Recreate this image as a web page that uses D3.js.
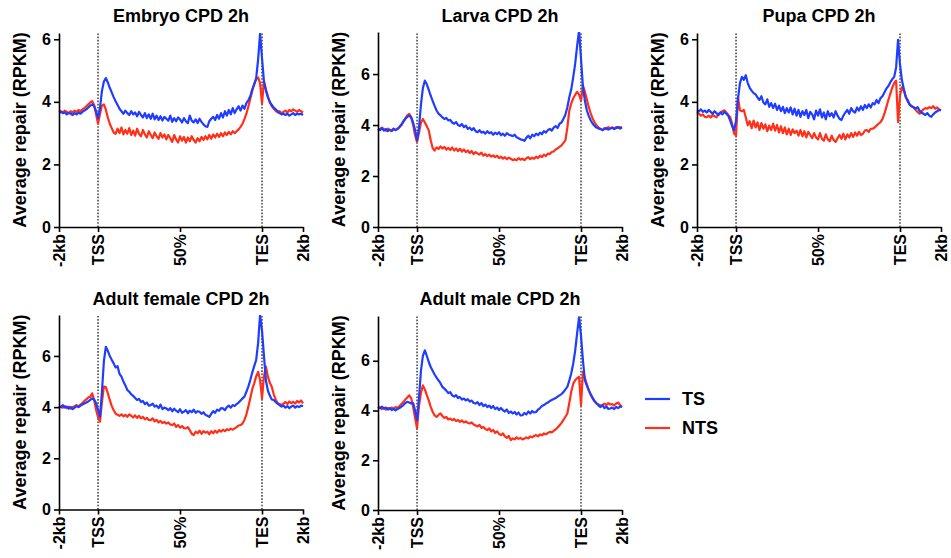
<!DOCTYPE html>
<html><head><meta charset="utf-8">
<script src="https://cdn.jsdelivr.net/npm/d3@7"></script>
<style>
body{margin:0;background:#fff}
svg text{font-family:"Liberation Sans",Arial,Helvetica,sans-serif;font-weight:bold;fill:#000}
</style></head>
<body><svg id="chart" width="951" height="558"></svg>
<script>
// ---------- data ----------
const xTickLabels = ["-2kb", "TSS", "50%", "TES", "2kb"];
const xTickBins = [0, 20, 62, 104, 125];
const markerBins = [20, 104];
const yTicks = [0, 2, 4, 6];
const titles = ["Embryo CPD 2h", "Larva CPD 2h", "Pupa CPD 2h", "Adult female CPD 2h", "Adult male CPD 2h"];
const yMaxes = [6.2, 7.65, 6.2, 7.6, 7.8];
const seriesNames = ["TS", "NTS"];
const seriesColors = ["#1f3dff", "#ff2f1a"];

const embryoTS = [3.66,3.68,3.64,3.66,3.60,3.65,3.62,3.58,3.64,3.60,
 3.66,3.62,3.68,3.72,3.76,3.82,3.88,3.92,3.86,3.70,
 3.48,3.80,4.35,4.65,4.76,4.62,4.45,4.30,4.15,4.02,
 3.90,3.78,3.70,3.62,3.72,3.64,3.58,3.70,3.60,3.66,
 3.54,3.68,3.58,3.50,3.64,3.48,3.60,3.46,3.62,3.44,
 3.56,3.42,3.54,3.40,3.52,3.46,3.40,3.56,3.36,3.48,
 3.38,3.50,3.44,3.34,3.48,3.38,3.32,3.56,3.40,3.34,
 3.44,3.32,3.46,3.36,3.28,3.22,3.20,3.38,3.46,3.52,
 3.42,3.58,3.46,3.64,3.50,3.70,3.56,3.74,3.60,3.80,
 3.64,3.76,3.86,3.72,3.88,3.78,3.96,4.05,4.18,4.40,
 4.55,4.75,5.35,6.18,5.40,4.65,4.35,4.15,4.00,3.90,
 3.82,3.76,3.70,3.64,3.60,3.62,3.58,3.62,3.56,3.60,
 3.64,3.58,3.62,3.60,3.62,3.58];
const embryoNTS = [3.68,3.70,3.66,3.72,3.68,3.64,3.70,3.66,3.72,3.68,
 3.74,3.70,3.76,3.80,3.86,3.92,3.98,4.02,3.90,3.60,
 3.30,3.62,3.88,3.92,3.75,3.50,3.30,3.16,3.02,2.98,
 3.14,3.00,3.18,2.96,3.10,2.98,3.16,2.94,3.08,2.92,
 3.14,2.98,2.90,3.10,2.96,2.86,3.06,2.94,2.84,3.02,
 2.90,2.82,3.00,2.86,2.96,2.80,2.94,2.84,2.72,2.94,
 2.80,2.70,2.90,2.76,2.88,2.70,2.86,2.74,2.90,2.78,
 2.70,2.84,2.74,2.88,2.78,2.90,2.80,2.94,2.82,2.96,
 2.86,2.98,2.88,3.00,2.90,3.02,2.94,3.04,2.96,3.06,
 3.00,3.06,3.12,3.20,3.30,3.45,3.62,3.85,4.10,4.35,
 4.58,4.72,4.78,4.60,3.95,4.65,4.40,4.18,3.98,3.86,
 3.78,3.72,3.66,3.70,3.64,3.68,3.72,3.66,3.74,3.70,
 3.76,3.72,3.68,3.74,3.70,3.66];

const larvaTS = [3.85,3.80,3.88,3.78,3.84,3.76,3.82,3.78,3.86,3.80,
 3.84,3.92,4.02,4.15,4.25,4.32,4.37,4.30,4.10,3.80,
 3.40,3.90,4.80,5.45,5.74,5.60,5.38,5.15,4.95,4.75,
 4.57,4.45,4.38,4.30,4.24,4.28,4.18,4.20,4.10,4.05,
 4.12,4.00,3.96,4.04,3.92,3.98,3.85,3.90,3.80,3.88,
 3.76,3.72,3.80,3.70,3.74,3.66,3.76,3.68,3.72,3.62,
 3.70,3.64,3.72,3.60,3.66,3.58,3.68,3.62,3.60,3.56,
 3.62,3.52,3.48,3.44,3.42,3.38,3.50,3.58,3.48,3.62,
 3.56,3.66,3.60,3.70,3.64,3.76,3.70,3.80,3.85,3.78,
 3.90,3.96,3.88,4.05,4.10,4.25,4.40,4.70,5.09,5.40,
 5.87,6.40,7.10,7.70,6.60,5.48,4.95,4.57,4.35,4.18,
 4.05,3.96,3.90,3.86,3.85,3.80,3.84,3.88,3.82,3.86,
 3.90,3.84,3.88,3.92,3.86,3.90];
const larvaNTS = [3.86,3.82,3.90,3.84,3.78,3.86,3.80,3.76,3.84,3.80,
 3.86,3.92,4.00,4.12,4.25,4.38,4.44,4.30,4.00,3.60,
 3.33,3.70,4.10,4.24,4.10,3.95,3.79,3.40,3.10,3.00,
 3.12,3.06,3.16,3.08,3.14,3.04,3.10,3.02,3.12,3.00,
 3.08,2.98,3.07,2.96,3.04,2.94,3.00,2.90,2.98,2.86,
 2.94,2.88,2.84,2.92,2.80,2.86,2.78,2.84,2.76,2.81,
 2.74,2.80,2.70,2.76,2.68,2.74,2.66,2.72,2.68,2.62,
 2.66,2.62,2.70,2.64,2.68,2.62,2.70,2.74,2.66,2.72,
 2.68,2.76,2.70,2.80,2.74,2.84,2.78,2.88,2.86,2.94,
 2.96,3.04,3.08,3.14,3.20,3.30,3.40,3.90,4.57,4.85,
 5.05,5.18,5.30,5.20,4.96,5.55,5.30,5.00,4.70,4.45,
 4.25,4.10,3.98,3.90,3.84,3.80,3.88,3.84,3.92,3.86,
 3.90,3.86,3.92,3.88,3.92,3.88];

const pupaTS = [3.73,3.70,3.76,3.68,3.72,3.66,3.74,3.68,3.62,3.70,
 3.64,3.58,3.66,3.60,3.68,3.62,3.56,3.40,3.22,3.09,
 3.40,4.10,4.60,4.80,4.70,4.85,4.60,4.45,4.36,4.28,
 4.24,4.14,4.06,4.18,3.98,3.92,4.08,3.84,3.96,3.80,
 3.94,3.74,3.88,3.70,3.84,3.64,3.80,3.66,3.82,3.60,
 3.78,3.56,3.74,3.52,3.70,3.58,3.74,3.48,3.68,3.60,
 3.44,3.72,3.56,3.76,3.50,3.66,3.44,3.70,3.54,3.64,
 3.50,3.70,3.56,3.46,3.42,3.56,3.66,3.74,3.62,3.80,
 3.70,3.66,3.82,3.72,3.86,3.74,3.90,3.80,3.92,3.82,
 3.96,3.92,4.06,3.96,4.12,4.18,4.30,4.42,4.50,4.62,
 4.72,4.79,5.10,5.98,5.20,4.68,4.40,4.15,4.05,3.90,
 3.86,3.82,3.78,3.83,3.72,3.66,3.62,3.58,3.64,3.56,
 3.52,3.60,3.66,3.70,3.74,3.73];
const pupaNTS = [3.67,3.62,3.56,3.60,3.52,3.51,3.56,3.50,3.58,3.54,
 3.51,3.60,3.66,3.70,3.73,3.66,3.58,3.51,3.30,2.98,
 2.93,4.15,3.73,3.70,3.74,3.50,3.25,3.38,3.16,3.40,
 3.18,3.34,3.10,3.32,3.14,3.28,3.06,3.24,3.10,3.30,
 3.08,3.26,3.02,3.22,3.00,3.18,2.96,3.14,2.94,3.12,
 3.00,3.08,2.92,3.10,2.90,3.06,2.86,3.04,2.94,2.84,
 3.00,2.86,2.80,3.00,2.82,2.76,2.96,2.80,2.74,2.92,
 2.78,2.72,2.84,2.94,2.82,2.98,2.80,2.96,2.86,3.00,
 2.88,3.02,2.92,3.04,2.94,2.98,3.08,3.10,3.04,3.14,
 3.14,3.18,3.24,3.30,3.35,3.45,3.62,3.83,4.05,4.25,
 4.45,4.60,4.68,3.35,4.20,4.47,4.35,4.15,4.00,3.92,
 3.86,3.83,3.74,3.68,3.62,3.70,3.76,3.80,3.78,3.83,
 3.80,3.86,3.78,3.82,3.76,3.73];

const femaleTS = [4.04,4.00,4.08,3.98,4.02,3.94,4.00,3.92,3.98,4.04,
 4.00,4.06,4.10,4.14,4.18,4.22,4.28,4.34,4.30,4.15,
 3.90,3.62,4.60,5.80,6.36,6.20,6.00,5.85,5.71,5.55,
 5.60,5.30,5.19,5.00,4.85,4.67,4.60,4.50,4.44,4.36,
 4.28,4.32,4.20,4.24,4.12,4.18,4.06,4.08,4.14,4.02,
 4.06,3.96,4.10,3.92,3.98,3.95,3.88,3.96,3.84,3.94,
 3.86,3.80,3.92,3.78,3.82,3.88,3.76,3.86,3.80,3.90,
 3.78,3.84,3.82,3.74,3.80,3.70,3.66,3.62,3.74,3.84,
 3.78,3.90,3.86,3.96,3.95,3.88,4.00,4.06,3.98,4.08,
 4.04,4.12,4.18,4.26,4.34,4.41,4.60,4.80,5.06,5.35,
 5.60,5.84,6.50,7.60,7.00,6.00,5.05,4.65,4.45,4.30,
 4.28,4.20,4.14,4.08,4.02,4.06,3.98,4.04,3.96,4.02,
 4.06,3.98,4.04,4.00,4.06,4.04];
const femaleNTS = [4.04,4.00,3.98,4.04,3.96,4.02,3.94,4.00,4.04,4.08,
 4.02,4.10,4.16,4.24,4.30,4.38,4.40,4.54,4.28,3.90,
 3.60,3.43,4.20,4.80,4.78,4.55,4.28,4.05,3.88,3.75,
 3.70,3.66,3.72,3.64,3.70,3.62,3.72,3.66,3.60,3.68,
 3.58,3.66,3.56,3.62,3.52,3.58,3.50,3.49,3.56,3.44,
 3.50,3.40,3.46,3.38,3.42,3.36,3.40,3.32,3.30,3.36,
 3.23,3.30,3.20,3.26,3.18,3.17,3.22,3.10,2.96,2.91,
 3.04,2.98,3.08,2.96,3.06,3.00,3.04,2.94,3.06,2.98,
 3.08,3.00,3.10,3.04,3.12,3.06,3.14,3.10,3.16,3.12,
 3.17,3.22,3.28,3.30,3.36,3.50,3.72,4.02,4.35,4.70,
 4.93,5.20,5.38,5.06,4.34,5.20,5.58,5.20,4.95,4.80,
 4.50,4.30,4.15,4.12,4.08,4.14,4.20,4.12,4.22,4.16,
 4.21,4.14,4.24,4.18,4.26,4.15];

const maleTS = [4.14,4.10,4.16,4.08,4.12,4.04,4.10,4.02,4.06,4.01,
 4.06,4.10,4.16,4.22,4.30,4.35,4.32,4.28,4.30,4.00,
 3.61,4.50,5.60,6.20,6.42,6.20,5.95,5.75,5.60,5.45,
 5.32,5.21,5.10,4.95,4.88,4.80,4.70,4.74,4.61,4.56,
 4.62,4.50,4.54,4.44,4.48,4.41,4.46,4.36,4.40,4.30,
 4.28,4.34,4.22,4.30,4.18,4.24,4.14,4.20,4.10,4.18,
 4.06,4.12,4.02,4.10,4.01,3.96,4.04,3.90,3.96,3.88,
 3.94,3.84,3.92,3.80,3.81,3.90,3.84,3.96,3.88,3.98,
 3.92,3.94,4.04,4.10,4.18,4.22,4.28,4.32,4.38,4.42,
 4.46,4.50,4.56,4.61,4.66,4.74,4.85,4.95,5.20,5.50,
 5.88,6.40,7.10,7.75,7.00,6.00,5.21,5.00,4.81,4.65,
 4.50,4.38,4.28,4.20,4.14,4.22,4.10,4.16,4.06,4.08,
 4.12,4.06,4.14,4.10,4.16,4.14];
const maleNTS = [4.08,4.12,4.06,4.10,4.04,4.10,4.06,4.12,4.08,4.14,
 4.10,4.18,4.26,4.34,4.44,4.52,4.61,4.50,4.14,3.70,
 3.28,4.20,4.70,5.01,4.85,4.62,4.41,4.15,3.95,3.80,
 3.74,3.82,3.88,3.78,3.70,3.74,3.64,3.68,3.61,3.66,
 3.58,3.62,3.54,3.60,3.52,3.56,3.50,3.48,3.52,3.44,
 3.40,3.36,3.42,3.30,3.34,3.26,3.21,3.28,3.16,3.22,
 3.10,3.16,3.06,3.01,3.08,2.96,2.90,2.98,2.81,2.88,
 2.84,2.92,2.86,2.90,2.84,2.87,2.92,2.88,2.96,2.92,
 2.98,3.01,2.96,3.04,3.00,3.08,3.04,3.10,3.14,3.12,
 3.18,3.24,3.32,3.41,3.50,3.62,3.75,3.88,4.30,4.75,
 5.08,5.22,5.30,5.35,4.21,5.55,5.30,5.05,4.81,4.62,
 4.48,4.36,4.28,4.24,4.20,4.21,4.28,4.22,4.30,4.24,
 4.26,4.20,4.28,4.32,4.22,4.14];

const panelSeries = [
  [embryoTS, embryoNTS],
  [larvaTS, larvaNTS],
  [pupaTS, pupaNTS],
  [femaleTS, femaleNTS],
  [maleTS, maleNTS]
];

// ---------- layout ----------
const layout = [
  {left: 59,  top: 33,  right: 303, bottom: 227,   titleY: 22},
  {left: 378, top: 32,  right: 622, bottom: 227,   titleY: 22},
  {left: 697, top: 33,  right: 941, bottom: 227,   titleY: 22},
  {left: 59,  top: 315, right: 303, bottom: 509.5, titleY: 305},
  {left: 378, top: 316, right: 622, bottom: 510,   titleY: 305}
];

const svg = d3.select("#chart");
const defs = svg.append("defs");

layout.forEach((L, p) => {
  const x = d3.scaleLinear().domain([0, 125]).range([L.left, L.right]);
  const y = d3.scaleLinear().domain([0, yMaxes[p]]).range([L.bottom, L.top]);
  const g = svg.append("g");

  defs.append("clipPath").attr("id", "clip" + p)
    .append("rect").attr("x", L.left - 2).attr("y", L.top)
    .attr("width", L.right - L.left + 4).attr("height", L.bottom - L.top);

  // dotted TSS / TES markers
  g.selectAll(".marker").data(markerBins).enter().append("line")
    .attr("x1", d => x(d)).attr("x2", d => x(d))
    .attr("y1", y(0)).attr("y2", y(yMaxes[p]))
    .attr("stroke", "#222").attr("stroke-width", 1.3)
    .attr("stroke-dasharray", "1.6,1.6");

  // series lines (NTS underneath, TS on top)
  const line = d3.line().x((d, i) => x(i)).y(d => y(d));
  const lg = g.append("g").attr("clip-path", "url(#clip" + p + ")");
  [1, 0].forEach(s => {
    lg.append("path").datum(panelSeries[p][s])
      .attr("d", line).attr("fill", "none")
      .attr("stroke", seriesColors[s]).attr("stroke-width", 2.2)
      .attr("stroke-linejoin", "round");
  });

  // y axis
  const ya = g.append("g").attr("transform", `translate(${L.left},0)`)
    .call(d3.axisLeft(y).tickValues(yTicks).tickFormat(d3.format("d"))
      .tickSize(5).tickSizeOuter(0).tickPadding(3));
  ya.select(".domain").attr("stroke", "#000").attr("stroke-width", 1.6);
  ya.selectAll(".tick line").attr("stroke", "#000").attr("stroke-width", 1.6);
  ya.selectAll(".tick text").style("font-size", "16px");

  // x axis
  const xa = g.append("g").attr("transform", `translate(0,${L.bottom})`)
    .call(d3.axisBottom(x).tickValues(xTickBins).tickFormat((d, i) => xTickLabels[i])
      .tickSize(5).tickSizeOuter(0));
  xa.select(".domain").attr("stroke", "#000").attr("stroke-width", 1.6);
  xa.selectAll(".tick line").attr("stroke", "#000").attr("stroke-width", 1.6);
  xa.selectAll(".tick text").style("font-size", "16px")
    .attr("transform", "rotate(-90)").attr("text-anchor", "end")
    .attr("x", -7).attr("y", 0).attr("dy", "0.36em");

  // y label
  g.append("text")
    .attr("transform", `translate(${L.left - 39},${(L.top + L.bottom) / 2}) rotate(-90)`)
    .attr("text-anchor", "middle").attr("dy", "0.36em")
    .style("font-size", "18px").text("Average repair (RPKM)");

  // title
  g.append("text").attr("x", (L.left + L.right) / 2).attr("y", L.titleY)
    .attr("text-anchor", "middle").style("font-size", "18px").text(titles[p]);
});

// legend
const legend = svg.append("g");
seriesNames.forEach((name, s) => {
  const yy = 399 + s * 29;
  legend.append("line").attr("x1", 645).attr("x2", 670).attr("y1", yy).attr("y2", yy)
    .attr("stroke", seriesColors[s]).attr("stroke-width", 2.2);
  legend.append("text").attr("x", 682).attr("y", yy).attr("dy", "0.36em")
    .style("font-size", "18px").text(name);
});
</script>
</body></html>
